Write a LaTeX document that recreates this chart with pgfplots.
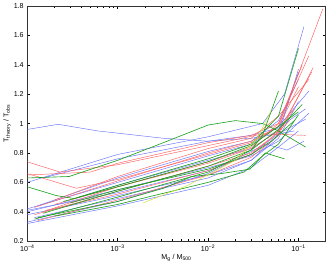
\documentclass[border=0pt]{standalone}
\usepackage{fontspec}
\setmainfont{Liberation Sans}
\usepackage{pgfplots}
\pgfplotsset{compat=1.18}
\definecolor{cb}{RGB}{105,115,255}
\definecolor{cr}{RGB}{255,95,95}
\definecolor{cg}{RGB}{25,160,25}
\definecolor{cy}{RGB}{215,225,60}
\begin{document}
\begin{tikzpicture}
\begin{axis}[
  scale only axis, width=293pt, height=231pt,
  xmode=log, xmin=1e-4, xmax=0.2, ymin=0.2, ymax=1.8,
  xtick={1e-4,1e-3,1e-2,1e-1},
  xticklabels={10\textsuperscript{−4},10\textsuperscript{−3},10\textsuperscript{−2},10\textsuperscript{−1}},
  ytick={0.2,0.4,0.6,0.8,1,1.2,1.4,1.6,1.8},
  yticklabels={0.2,0.4,0.6,0.8,1,1.2,1.4,1.6,1.8},
  tick label style={font=\fontsize{7}{8}\selectfont},
  label style={font=\fontsize{7}{8}\selectfont},
  major tick length=3pt, minor tick length=1.8pt,
  tick align=inside,
  axis line style={black!80, line width=0.6pt},
  every tick/.style={black, line width=0.4pt},
  xlabel={M\textsubscript{g} / M\textsubscript{500}},
  ylabel={T\textsubscript{theory} / T\textsubscript{obs}},
  xlabel style={yshift=4pt},
  ylabel style={yshift=-4pt},
  every axis plot/.append style={line width=0.45pt},
]
% blue
\addplot[cb] coordinates {(1e-4,0.96) (2.2e-4,0.995) (6e-4,0.95) (3.2e-3,0.90) (1e-2,0.88) (3e-2,0.90) (6e-2,0.93) (0.09,0.95)};
\addplot[cb] coordinates {(1e-4,0.60) (1e-3,0.79) (1e-2,0.91) (4e-2,1.0) (7e-2,1.2) (0.115,1.66)};
\addplot[cb] coordinates {(1e-4,0.42) (1e-3,0.60) (1e-2,0.78) (3e-2,0.86) (6e-2,0.98) (0.13,1.22)};
\addplot[cb] coordinates {(1e-4,0.40) (1e-3,0.55) (1e-2,0.70) (3e-2,0.78) (6e-2,0.88) (0.13,1.07)};
\addplot[cb] coordinates {(1e-4,0.33) (1e-3,0.47) (1e-2,0.66) (4.3e-2,0.86) (7.5e-2,0.82) (0.115,0.88)};
\addplot[cb] coordinates {(3.7e-4,0.50) (1e-3,0.58) (1e-2,0.75) (3e-2,0.83) (6e-2,0.95) (0.1,1.35)};
\addplot[cb] coordinates {(1e-4,0.38) (1e-3,0.51) (1e-2,0.65) (3e-2,0.75) (6e-2,0.90) (0.1,1.15)};
\addplot[cb] coordinates {(1.2e-4,0.36) (1e-3,0.49) (1e-2,0.63) (3e-2,0.75) (6e-2,0.92) (0.1,1.37)};
\addplot[cb] coordinates {(1.5e-4,0.63) (1e-3,0.76) (1e-2,0.88) (3e-2,0.92) (6e-2,0.97) (0.12,1.10)};
\addplot[cb] coordinates {(1e-4,0.32) (1e-3,0.44) (1e-2,0.58) (3e-2,0.70) (6e-2,0.84) (0.1,0.95)};
\addplot[cb] coordinates {(1.3e-4,0.44) (1e-3,0.63) (1e-2,0.81) (3e-2,0.88) (6e-2,1.02) (0.1,1.30)};
\addplot[cb] coordinates {(1e-4,0.41) (1e-3,0.53) (1e-2,0.68) (3e-2,0.79) (6e-2,0.93) (0.12,1.03)};
% red
\addplot[cr] coordinates {(1e-4,0.74) (2.3e-4,0.67) (1e-3,0.72) (1e-2,0.85) (4e-2,0.93) (0.12,0.92)};
\addplot[cr] coordinates {(1e-4,0.66) (3.5e-4,0.56) (1e-3,0.62) (1e-2,0.79) (3e-2,0.87) (6e-2,0.98) (0.186,1.78)};
\addplot[cr] coordinates {(1e-4,0.65) (5e-4,0.67) (1e-3,0.73) (1e-2,0.87) (3e-2,0.92) (6e-2,1.0) (0.13,1.46)};
\addplot[cr] coordinates {(1.3e-4,0.34) (1e-3,0.48) (1e-2,0.65) (3e-2,0.77) (6e-2,0.92) (0.145,1.38)};
\addplot[cr] coordinates {(1.2e-4,0.38) (1e-3,0.54) (1e-2,0.71) (3e-2,0.80) (6e-2,0.94) (0.14,1.35)};
\addplot[cr] coordinates {(1.5e-4,0.40) (1e-3,0.57) (1e-2,0.74) (3e-2,0.84) (6e-2,1.0) (0.11,1.40)};
\addplot[cr] coordinates {(1.2e-4,0.43) (1e-3,0.61) (1e-2,0.80) (3e-2,0.88) (6e-2,0.98) (0.1,1.25)};
\addplot[cr] coordinates {(2e-4,0.45) (1e-3,0.57) (1e-2,0.73) (3e-2,0.83) (6e-2,0.95) (0.09,1.10)};
\addplot[cr] coordinates {(1.6e-4,0.41) (1e-3,0.52) (1e-2,0.68) (3e-2,0.79) (5e-2,0.90) (0.08,1.02)};
\addplot[cr] coordinates {(2e-4,0.48) (1e-3,0.64) (1e-2,0.83) (3e-2,0.90) (6e-2,1.05) (0.13,1.30)};
% green
\addplot[cg, line width=0.6pt] coordinates {(1e-4,0.63) (2.9e-4,0.64) (1e-3,0.75) (3.2e-3,0.87) (1e-2,0.99) (2e-2,1.02) (4e-2,1.0) (6e-2,0.95) (0.12,0.84)};
\addplot[cg, line width=0.6pt] coordinates {(1e-4,0.57) (2.1e-4,0.51) (3.3e-4,0.49) (1e-3,0.58) (1e-2,0.76) (3e-2,0.86) (6e-2,1.05) (0.1,1.51)};
\addplot[cg, line width=0.6pt] coordinates {(1.3e-4,0.36) (1e-3,0.47) (3.2e-3,0.56) (6.6e-3,0.64) (1.4e-2,0.66) (2.9e-2,0.69) (4.3e-2,0.80) (7e-2,0.76)};
\addplot[cg, line width=0.6pt] coordinates {(1.2e-4,0.35) (1e-3,0.50) (1e-2,0.67) (3e-2,0.82) (4e-2,0.92) (6e-2,1.22)};
\addplot[cg, line width=0.6pt] coordinates {(1.5e-4,0.39) (1e-3,0.54) (1e-2,0.71) (3e-2,0.82) (6e-2,0.96) (0.11,1.13)};
\addplot[cg, line width=0.6pt] coordinates {(2.5e-4,0.47) (1e-3,0.57) (1e-2,0.74) (3e-2,0.85) (6e-2,0.98) (0.1,1.08)};
\addplot[cg, line width=0.6pt] coordinates {(3e-4,0.46) (1e-3,0.55) (1e-2,0.69) (3e-2,0.79) (5e-2,0.88) (0.09,1.02)};
\addplot[cg, line width=0.6pt] coordinates {(2e-4,0.37) (1e-3,0.45) (1e-2,0.60) (2.5e-2,0.67) (4e-2,0.78) (6e-2,0.86) (0.1,1.06)};
% yellow
\addplot[cy, line width=0.5pt] coordinates {(1.9e-3,0.46) (6e-3,0.58) (2e-2,0.75) (3.5e-2,0.90) (5e-2,1.09)};
\end{axis}
\end{tikzpicture}
\end{document}
